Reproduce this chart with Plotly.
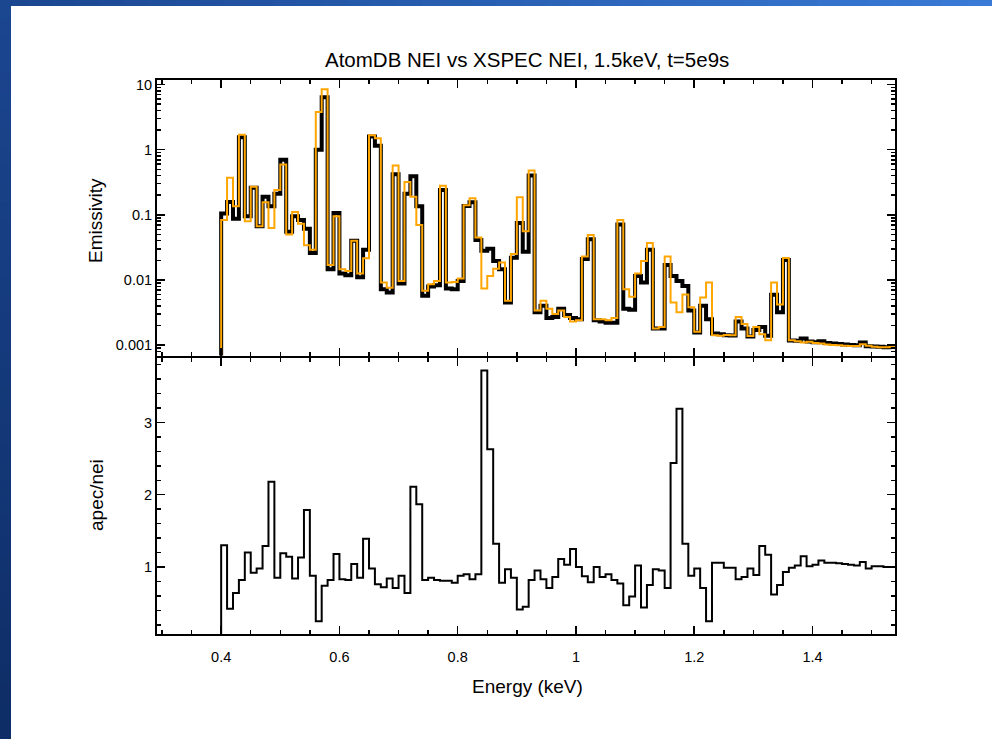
import numpy as np
import plotly.graph_objects as go
from plotly.subplots import make_subplots

# ---- data ----
E_START = 0.40      # keV, left edge of first bin
BIN_WIDTH = 0.01    # keV

apec_emissivity = [
    0.105, 0.158, 0.087, 1.55, 0.095, 0.26, 0.067, 0.19, 0.135, 0.21,
    0.70, 0.055, 0.095, 0.083, 0.061, 0.026, 1.0, 6.4, 0.0146, 0.107,
    0.0126, 0.0118, 0.040, 0.011, 0.029, 1.6, 1.15, 0.0072, 0.0064, 0.42,
    0.0088, 0.21, 0.39, 0.135, 0.0057, 0.0079, 0.0083, 0.24, 0.0074, 0.0072,
    0.0096, 0.136, 0.156, 0.041, 0.028, 0.030, 0.0195, 0.0146, 0.0045, 0.022,
    0.075, 0.027, 0.40, 0.0032, 0.0040, 0.0026, 0.0027, 0.0036, 0.0029, 0.0026,
    0.0025, 0.021, 0.042, 0.0024, 0.0023, 0.0022, 0.0022, 0.071, 0.0036, 0.0035,
    0.0115, 0.0091, 0.029, 0.0018, 0.0018, 0.017, 0.0115, 0.0096, 0.0081, 0.0034,
    0.00156, 0.0040, 0.0025, 0.0015, 0.00147, 0.00142, 0.0014, 0.0023, 0.0018, 0.00135,
    0.0017, 0.0019, 0.00139, 0.0059, 0.0032, 0.0203, 0.00118, 0.00117, 0.00126, 0.00113,
    0.00111, 0.00115, 0.00108, 0.00106, 0.00104, 0.00102, 0.00100, 0.00099, 0.00110, 0.00096,
    0.00095, 0.00094, 0.00093, 0.00094,
]

xspec_emissivity = [
    0.083, 0.37, 0.135, 1.7, 0.080, 0.27, 0.067, 0.156, 0.063, 0.24,
    0.59, 0.050, 0.11, 0.073, 0.034, 0.029, 3.8, 8.5, 0.017, 0.095,
    0.0146, 0.0137, 0.040, 0.0126, 0.0215, 1.66, 1.5, 0.0091, 0.0076, 0.57,
    0.0096, 0.32, 0.19, 0.070, 0.0068, 0.0086, 0.0096, 0.28, 0.0091, 0.0093,
    0.0105, 0.14, 0.18, 0.045, 0.0074, 0.0115, 0.0149, 0.0185, 0.0048, 0.025,
    0.186, 0.056, 0.48, 0.0034, 0.0048, 0.0036, 0.0030, 0.0034, 0.0027, 0.0023,
    0.0024, 0.023, 0.049, 0.0025, 0.0025, 0.0024, 0.0026, 0.083, 0.0072, 0.0055,
    0.0126, 0.0195, 0.037, 0.0018, 0.0019, 0.023, 0.0045, 0.0032, 0.006, 0.0038,
    0.0016, 0.0054, 0.0091, 0.00142, 0.00139, 0.00143, 0.00141, 0.0027, 0.0021, 0.00138,
    0.0019, 0.00147, 0.00119, 0.0091, 0.0042, 0.0218, 0.00119, 0.00115, 0.00110, 0.00112,
    0.00108, 0.00106, 0.00102, 0.00100, 0.00099, 0.00098, 0.00097, 0.00097, 0.00103, 0.00098,
    0.00094, 0.00093, 0.00093, 0.00094,
]

ratio_apec_nei = [
    1.30, 0.42, 0.64, 0.82, 1.20, 0.92, 0.98, 1.29, 2.18, 0.85,
    1.19, 1.14, 0.84, 1.13, 1.79, 0.88, 0.25, 0.74, 0.82, 1.18,
    0.83, 0.82, 1.04, 0.85, 1.39, 0.98, 0.76, 0.72, 0.84, 0.71,
    0.88, 0.64, 2.11, 1.87, 0.82, 0.85, 0.82, 0.81, 0.81, 0.78,
    0.88, 0.90, 0.83, 0.90, 3.72, 2.63, 1.32, 0.78, 0.97, 0.85,
    0.41, 0.45, 0.82, 0.95, 0.83, 0.71, 0.86, 1.11, 1.03, 1.25,
    1.00, 0.87, 0.79, 1.00, 0.86, 0.90, 0.82, 0.77, 0.47, 0.59,
    1.02, 0.44, 0.75, 0.97, 0.95, 0.71, 2.44, 3.19, 1.32, 0.88,
    0.98, 0.71, 0.25, 1.06, 1.06, 0.99, 0.99, 0.83, 0.86, 0.98,
    0.89, 1.29, 1.17, 0.62, 0.75, 0.93, 0.99, 1.02, 1.15, 1.01,
    1.03, 1.09, 1.06, 1.06, 1.05, 1.04, 1.03, 1.02, 1.07, 0.98,
    1.01, 1.01, 1.00, 1.00,
]

x_tick_vals = [0.4, 0.6, 0.8, 1.0, 1.2, 1.4]
x_tick_text = ["0.4", "0.6", "0.8", "1", "1.2", "1.4"]
top_tick_vals = [0.001, 0.01, 0.1, 1, 10]
top_tick_text = ["0.001", "0.01", "0.1", "1", "10"]
bot_tick_vals = [1, 2, 3]
bot_tick_text = ["1", "2", "3"]

TITLE = "AtomDB NEI vs XSPEC NEI, 1.5keV, t=5e9s"

# ---- histogram-style step arrays ----
n = len(apec_emissivity)
edges = E_START + BIN_WIDTH * np.arange(n + 1)
x_step = np.concatenate([[E_START], edges])


def step_y(vals, floor):
    v = list(vals)
    return [floor] + v + [v[-1]]


# ---- geometry ----
W, H = 992, 739
L, R, T, B = 157, 97, 80, 105
PW, PH = W - L - R, H - T - B


def px(xp):
    return (xp - L) / PW


def py(yp):
    return (H - B - yp) / PH


split = py(356.5)
half_px = 1.0 / PH

fig = make_subplots(rows=2, cols=1, shared_xaxes=True, vertical_spacing=0)

fig.add_trace(go.Scatter(x=x_step, y=step_y(apec_emissivity, 1e-6), mode="lines",
                         line=dict(color="black", width=4, shape="hv"),
                         hoverinfo="skip", showlegend=False), row=1, col=1)
fig.add_trace(go.Scatter(x=x_step, y=step_y(xspec_emissivity, 1e-6), mode="lines",
                         line=dict(color="#FFA500", width=2, shape="hv"),
                         hoverinfo="skip", showlegend=False), row=1, col=1)
fig.add_trace(go.Scatter(x=x_step, y=step_y(ratio_apec_nei, -1.0), mode="lines",
                         line=dict(color="black", width=2, shape="hv"),
                         hoverinfo="skip", showlegend=False), row=2, col=1)

FONT = "Liberation Sans, Arial, Helvetica, sans-serif"
tick_font = dict(family=FONT, size=14.5, color="black")

common_x = dict(range=[0.2915, 1.5395], showline=True, linecolor="black", linewidth=2,
                mirror="ticks", ticks="inside", ticklen=8, tickwidth=1.5, tickcolor="black",
                tickvals=x_tick_vals, ticktext=x_tick_text, showgrid=False, zeroline=False,
                minor=dict(ticks="inside", ticklen=4, tickwidth=1.5, tickcolor="black",
                           dtick=0.05, tick0=0.0, showgrid=False))

fig.update_xaxes(**common_x, showticklabels=False, row=1, col=1)
fig.update_xaxes(**common_x, showticklabels=True, tickfont=tick_font,
                 ticklabelstandoff=9, row=2, col=1)

fig.update_yaxes(type="log", range=[-3.16, 1.07], showline=True, linecolor="black",
                 linewidth=2, mirror="ticks", ticks="inside", ticklen=8, tickwidth=1.5,
                 tickcolor="black", tickvals=top_tick_vals, ticktext=top_tick_text,
                 tickfont=tick_font, showgrid=False, zeroline=False,
                 minor=dict(ticks="inside", ticklen=4, tickwidth=1.5, tickcolor="black",
                            dtick="D1", showgrid=False),
                 row=1, col=1)
fig.update_yaxes(range=[0.072, 3.90], showline=True, linecolor="black", linewidth=2,
                 mirror="ticks", ticks="inside", ticklen=8, tickwidth=1.5, tickcolor="black",
                 tickvals=bot_tick_vals, ticktext=bot_tick_text, tickfont=tick_font,
                 showgrid=False, zeroline=False,
                 minor=dict(ticks="inside", ticklen=4, tickwidth=1.5, tickcolor="black",
                            dtick=0.2, tick0=0.0, showgrid=False),
                 row=2, col=1)

# leave a 2 px gap so the two 2 px frame lines coincide at the shared border
fig.layout.yaxis.domain = [split + half_px, 1.0]
fig.layout.yaxis2.domain = [0.0, split - half_px]

# ---- decorative slide border (blue gradient bars) ----
shapes = []


def lerp(c1, c2, t):
    return "rgb(%d,%d,%d)" % tuple(int(round(a + (b - a) * t)) for a, b in zip(c1, c2))


nseg = 40
for i in range(nseg):
    x0 = W * i / nseg
    x1 = W * (i + 1) / nseg + 1
    shapes.append(dict(type="rect", xref="paper", yref="paper",
                       x0=px(x0), x1=px(x1), y0=py(-1), y1=py(6),
                       fillcolor=lerp((27, 70, 144), (56, 122, 214), i / (nseg - 1)),
                       line=dict(width=0), layer="below"))
for i in range(nseg):
    y0 = H * i / nseg
    y1 = H * (i + 1) / nseg + 1
    shapes.append(dict(type="rect", xref="paper", yref="paper",
                       x0=px(-1), x1=px(11), y0=py(y0), y1=py(y1),
                       fillcolor=lerp((27, 70, 144), (14, 45, 102), i / (nseg - 1)),
                       line=dict(width=0), layer="below"))

annotations = [
    dict(text="Emissivity", xref="paper", yref="paper", x=px(96), y=py(221),
         textangle=-90, showarrow=False, xanchor="center", yanchor="middle",
         font=dict(family=FONT, size=19, color="black")),
    dict(text="apec/nei", xref="paper", yref="paper", x=px(96), y=py(495),
         textangle=-90, showarrow=False, xanchor="center", yanchor="middle",
         font=dict(family=FONT, size=19, color="black")),
    dict(text="Energy (keV)", xref="paper", yref="paper", x=px(527), y=py(686),
         showarrow=False, xanchor="center", yanchor="middle",
         font=dict(family=FONT, size=19, color="black")),
    dict(text=TITLE, xref="paper", yref="paper", x=px(527), y=py(60),
         showarrow=False, xanchor="center", yanchor="middle",
         font=dict(family=FONT, size=20.5, color="black")),
]

fig.update_layout(width=W, height=H, margin=dict(l=L, r=R, t=T, b=B),
                  paper_bgcolor="white", plot_bgcolor="white",
                  shapes=shapes, annotations=annotations, showlegend=False)

fig.write_html("out.html",
               config={"displayModeBar": False, "staticPlot": True},
               post_script="document.body.style.margin='0';"
                           "document.body.style.padding='0';"
                           "document.body.style.overflow='hidden';")
